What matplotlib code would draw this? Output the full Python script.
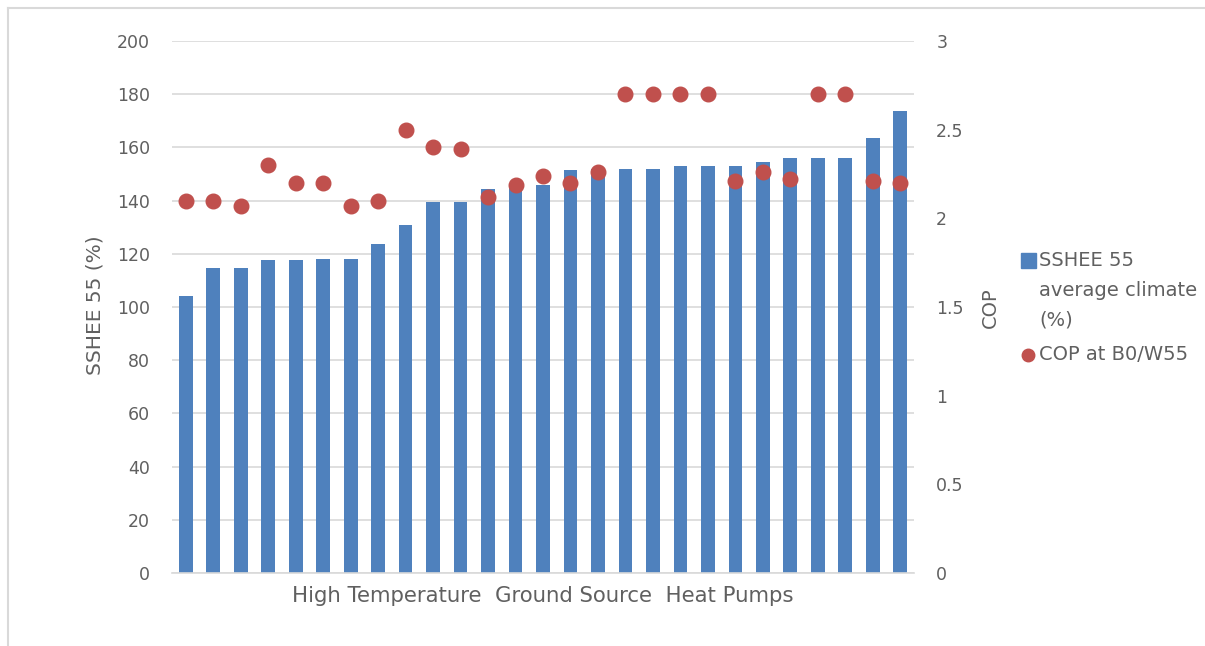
import matplotlib
matplotlib.use("Agg")
import matplotlib.pyplot as plt
from matplotlib.lines import Line2D
import numpy as np

# SSHEE 55 average climate (%) per heat pump, sorted
sshee = [104, 114.5, 114.5, 117.5, 117.5, 118, 118, 123.5, 131, 139.5, 139.5,
         144.5, 146, 146, 151.5, 152, 152, 152, 153, 153, 153, 154.5, 156,
         156, 156, 163.5, 173.5]
# COP at B0/W55
cop = [2.1, 2.1, 2.07, 2.3, 2.2, 2.2, 2.07, 2.1, 2.5, 2.4, 2.39, 2.12, 2.19,
       2.24, 2.2, 2.26, 2.7, 2.7, 2.7, 2.7, 2.21, 2.26, 2.22, 2.7, 2.7, 2.21,
       2.2]
left_ticks = [0, 20, 40, 60, 80, 100, 120, 140, 160, 180, 200]
right_ticks = [0, 0.5, 1, 1.5, 2, 2.5, 3]
right_labels = ['0', '0.5', '1', '1.5', '2', '2.5', '3']

plt.rcParams['font.family'] = ['DejaVu Sans']
txt = '#606060'


def fx(px):
    return px / 1205


def fy(py):
    return 1 - py / 646


fig = plt.figure(figsize=(12.05, 6.46), dpi=100)
# chart-area frame: only the top and left edges show in the screenshot
fig.add_artist(Line2D([fx(8), 1.0], [fy(8), fy(8)], color='#d9d9d9',
                      linewidth=1.5, transform=fig.transFigure))
fig.add_artist(Line2D([fx(8), fx(8)], [fy(8), 0.0], color='#d9d9d9',
                      linewidth=1.5, transform=fig.transFigure))

ax = fig.add_axes([fx(172), fy(573), 742 / 1205, 532 / 646])
x = np.arange(len(sshee))
ax.bar(x, sshee, width=0.5, color='#4f81bd', zorder=2)
ax.set_xlim(-0.5, len(sshee) - 0.5)
ax.set_ylim(0, 200)
ax.set_yticks(left_ticks)
ax.grid(axis='y', color='#d9d9d9', linewidth=1.2, zorder=0)
ax.set_xticks([])
ax.tick_params(axis='y', length=0, pad=16, labelsize=12.5, labelcolor=txt)
for s in ['top', 'right', 'left']:
    ax.spines[s].set_visible(False)
ax.spines['bottom'].set_color('#d9d9d9')
ax.spines['bottom'].set_linewidth(1.2)

ax2 = ax.twinx()
ax2.plot(x, cop, 'o', color='#c0504d', markersize=10.5, zorder=3)
ax2.set_ylim(0, 3)
ax2.set_yticks(right_ticks)
ax2.set_yticklabels(right_labels)
ax2.tick_params(axis='y', length=0, pad=16, labelsize=12.5, labelcolor=txt)
for s in ax2.spines.values():
    s.set_visible(False)

# axis titles
fig.text(fx(95), fy(305), 'SSHEE 55 (%)', fontsize=14.5, color=txt,
         rotation=90, ha='center', va='center')
fig.text(fx(990), fy(308), 'COP', fontsize=14, color=txt,
         rotation=90, ha='center', va='center')
fig.text(fx(543), fy(596), 'High Temperature  Ground Source  Heat Pumps',
         fontsize=15.3, color=txt, ha='center', va='center')

# legend, drawn by hand so the square sits on the first line
fig.add_artist(Line2D([fx(1028)], [fy(260)], marker='s', markersize=10.8,
                      color='#4f81bd', linestyle='none',
                      transform=fig.transFigure))
fig.add_artist(Line2D([fx(1028)], [fy(355)], marker='o', markersize=9,
                      color='#c0504d', linestyle='none',
                      transform=fig.transFigure))
fig.text(fx(1039), fy(260), 'SSHEE 55', fontsize=14, color=txt, va='center')
fig.text(fx(1039), fy(291), 'average climate', fontsize=14, color=txt,
         va='center')
fig.text(fx(1039), fy(320), '(%)', fontsize=14, color=txt, va='center')
fig.text(fx(1039), fy(355), 'COP at B0/W55', fontsize=14, color=txt,
         va='center')

fig.savefig('out.png', dpi=100)
